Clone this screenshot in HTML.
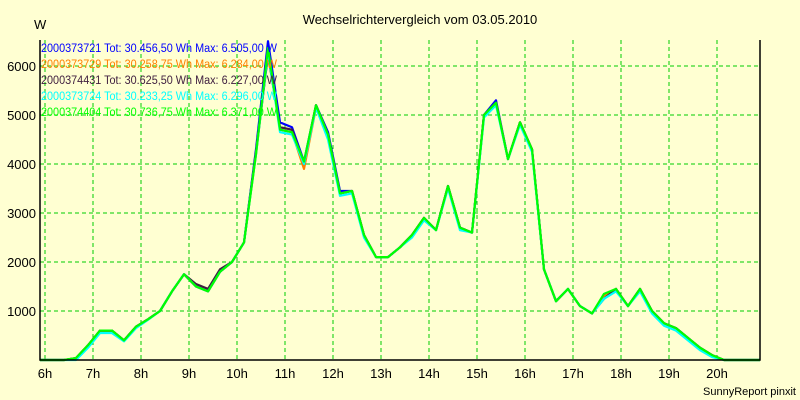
<!DOCTYPE html>
<html><head><meta charset="utf-8"><style>
body{margin:0;background:#ffffd2;}
svg{display:block;font-family:"Liberation Sans",sans-serif;}
</style></head><body>
<svg id="c" width="800" height="400">
<rect width="800" height="400" fill="#ffffd2"/>
<text x="420" y="24" font-size="13" text-anchor="middle">Wechselrichtervergleich vom 03.05.2010</text>
<text x="34" y="29" font-size="13">W</text>
<text x="796" y="395" font-size="11" text-anchor="end">SunnyReport pinxit</text>
<g id="grid"></g><g id="series"></g><g id="axes"></g><g id="legend"></g>
</svg>
<script>
const hours=[6,7,8,9,10,11,12,13,14,15,16,17,18,19,20];
const yTicks=[1000,2000,3000,4000,5000,6000];
const names=["2000373721","2000373729","2000374431","2000373724","2000374404"];
const totals=["30.456,50","30.258,75","30.625,50","30.233,25","30.736,75"];
const maxes=["6.505,00","6.284,00","6.227,00","6.296,00","6.371,00"];
const colors=["#0000ff","#ff8000","#402040","#00ffff","#00ff00"];
const s1=[0,0,0,30,300,600,600,400,680,830,1000,1400,1750,1500,1400,1800,2000,2400,4300,6505,4850,4750,4050,5200,4650,3450,3450,2550,2100,2100,2300,2550,2900,2650,3550,2700,2600,5000,5300,4100,4850,4300,1850,1200,1450,1100,950,1300,1450,1100,1450,1000,750,650,450,250,100,0,0,0,0];
const s2=[0,0,0,40,300,600,600,400,680,830,1000,1400,1750,1500,1400,1800,2000,2400,4200,6284,4700,4650,3900,5150,4550,3400,3450,2550,2100,2100,2300,2550,2900,2650,3550,2700,2600,5000,5250,4100,4850,4300,1850,1200,1450,1100,950,1300,1450,1100,1450,1000,750,650,450,250,100,0,0,0,0];
const s3=[0,0,0,40,300,600,600,400,680,830,1000,1400,1750,1550,1450,1850,2000,2400,4250,6227,4750,4700,4000,5200,4600,3400,3450,2550,2100,2100,2300,2550,2900,2650,3550,2700,2600,5000,5250,4100,4850,4300,1850,1200,1450,1100,950,1250,1450,1100,1450,1000,750,650,450,250,100,0,0,0,0];
const s4=[0,0,0,0,250,550,550,380,650,820,1000,1400,1750,1500,1400,1800,2000,2400,4200,6296,4650,4600,4000,5150,4500,3350,3400,2500,2100,2100,2300,2500,2850,2650,3500,2650,2600,4950,5200,4100,4800,4250,1850,1200,1450,1100,950,1250,1400,1100,1400,950,700,600,400,200,60,0,0,0,0];
const s5=[0,0,0,40,300,600,600,400,680,830,1000,1400,1750,1500,1400,1800,2000,2400,4200,6371,4700,4650,4050,5200,4600,3400,3450,2550,2100,2100,2300,2550,2900,2650,3550,2700,2600,5000,5250,4100,4850,4300,1850,1200,1450,1100,950,1350,1450,1100,1450,1000,750,650,450,250,100,0,0,0,0];
const seriesData=[s1,s2,s3,s4,s5];
const NS="http://www.w3.org/2000/svg";
const X0=40,X1=760,Y0=360,YT=40;
const xh=h=>45+(h-6)*48;
const yv=v=>Y0-v*0.049;
function mk(t,a,p){const e=document.createElementNS(NS,t);for(const k in a)e.setAttribute(k,a[k]);p.appendChild(e);return e;}
const grid=document.getElementById('grid'),axes=document.getElementById('axes'),ser=document.getElementById('series'),leg=document.getElementById('legend');
hours.forEach(h=>{
 const l=mk('line',{x1:xh(h),x2:xh(h),y1:YT,y2:Y0,stroke:'#00cc00','stroke-dasharray':'4,3'},grid);
 
 
 const t=mk('text',{x:xh(h),y:378,'font-size':13,'text-anchor':'middle'},axes);t.textContent=h+'h';
 
 
});
yTicks.forEach(v=>{
 const l=mk('line',{x1:X0,x2:X1,y1:yv(v),y2:yv(v),stroke:'#00cc00','stroke-dasharray':'4,3'},grid);
 
 
 const t=mk('text',{x:36,y:yv(v)+5,'font-size':13,'text-anchor':'end'},axes);t.textContent=v;
 
 
});
const ax=mk('polyline',{points:`${X0},${YT} ${X0},${Y0} ${X1},${Y0} ${X1},${YT}`,fill:'none',stroke:'#000','stroke-width':1.5},axes);


seriesData.forEach((d,i)=>{
 const pts=d.map((v,k)=>`${Math.max(X0,Math.min(xh(6+k*0.25)-5,X1))},${yv(v)}`).join(' ');
 const p=mk('polyline',{points:pts,fill:'none',stroke:colors[i],'stroke-width':2.2,'stroke-linejoin':'round'},ser);
 
 
 const t=mk('text',{x:41,y:52+i*16,'font-size':11.5,fill:colors[i],textLength:236,lengthAdjust:'spacingAndGlyphs'},leg);
 t.textContent=`${names[i]} Tot: ${totals[i]} Wh Max: ${maxes[i]} W`;
 
 
});
</script>
</body></html>
